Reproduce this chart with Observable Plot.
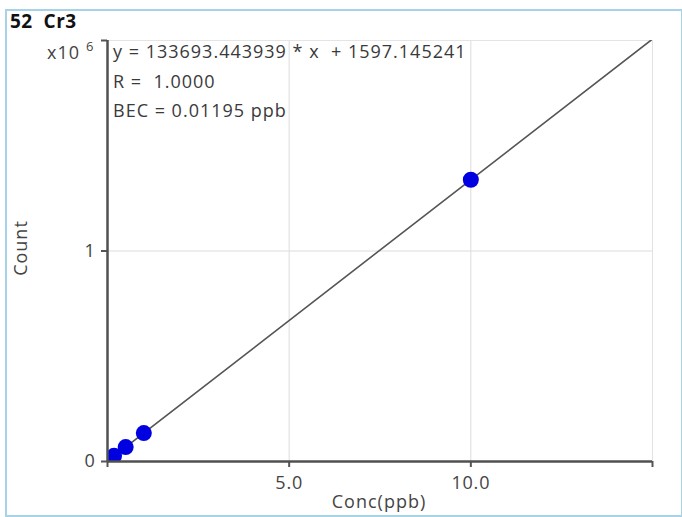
<!DOCTYPE html>
<html>
<head>
<meta charset="utf-8">
<script src="https://cdn.jsdelivr.net/npm/d3@7"></script>
<script src="https://cdn.jsdelivr.net/npm/@observablehq/plot@0.6"></script>
<style>
  html, body { margin: 0; padding: 0; background: #fff; }
  #wrap { position: relative; width: 682px; height: 517px; overflow: hidden; background: #fff;
          font-family: "Open Sans", sans-serif; color: #3a3a3a; }
  #border { position: absolute; left: 5px; top: 9px; width: 674px; height: 504px;
            border: 2px solid #a8d2e8; box-sizing: content-box; }
  .t { position: absolute; font-size: 18px; line-height: 18px; white-space: pre; letter-spacing: 1px; }
  #chart { position: absolute; left: 0; top: 0; }
</style>
</head>
<body>
<div id="wrap">
  <div id="border"></div>
  <div id="chart"></div>
</div>
<script>
// ---- data ----
const title = "52  Cr3";
const scaleLabel = "x10";
const scaleExp = "6";
const equationLines = [
  "y = 133693.443939 * x  + 1597.145241",
  "R =  1.0000",
  "BEC = 0.01195 ppb"
];
const xLabel = "Conc(ppb)";
const yLabel = "Count";
const conc = [0.18, 0.5, 1.0, 10.0];
const counts = [27000, 68500, 135000, 1338500];
const slope = 133693.443939;
const intercept = 1597.145241;
const lineX = [0, 15];
const xTicks = [0, 5, 10, 15];
const xTickLabels = ["", "5.0", "10.0", ""];
const yTicks = [0, 1000000, 2000000];
const yTickLabels = ["0", "1", ""];
const gridXValues = [5, 10];
const gridYValues = [1000000];

const points = conc.map((c, i) => ({x: c, y: counts[i]}));
const fitLine = lineX.map(x => ({x, y: slope * x + intercept}));

const chart = Plot.plot({
  width: 682,
  height: 517,
  marginLeft: 107,
  marginRight: 30,
  marginTop: 40,
  marginBottom: 56,
  style: {fontFamily: "Open Sans, sans-serif", fontSize: "18px", color: "#444", background: "transparent", letterSpacing: "0.8px"},
  x: {domain: [0, 15]},
  y: {domain: [0, 2000000]},
  marks: [
    Plot.gridX(gridXValues, {stroke: "#dcdcdc", strokeOpacity: 1, strokeWidth: 1}),
    Plot.gridY(gridYValues, {stroke: "#dcdcdc", strokeOpacity: 1, strokeWidth: 1}),
    Plot.ruleY([2000000], {stroke: "#e4e4e4", strokeWidth: 1}),
    Plot.ruleX([15], {stroke: "#e2e2e2", strokeWidth: 1}),
    Plot.line(fitLine, {x: "x", y: "y", stroke: "#555", strokeWidth: 1.6, clip: true}),
    Plot.dot(points, {x: "x", y: "y", r: 8, fill: "#0000e0", stroke: "none", clip: true}),
    Plot.axisX({ticks: xTicks, tickFormat: (d) => xTickLabels[xTicks.indexOf(d)], tickSize: 6, tickPadding: 9, label: null, stroke: "#555", strokeWidth: 2}),
    Plot.axisY({ticks: yTicks, tickFormat: (d) => yTickLabels[yTicks.indexOf(d)], tickSize: 6, tickPadding: 6, label: null, stroke: "#555", strokeWidth: 2}),
    Plot.ruleX([0], {stroke: "#505050", strokeWidth: 2.5}),
    Plot.ruleY([0], {stroke: "#505050", strokeWidth: 2.5})
  ]
});
document.getElementById("chart").appendChild(chart);

const wrap = document.getElementById("wrap");
function addText(txt, left, top, extra) {
  const d = document.createElement("div");
  d.className = "t";
  d.textContent = txt;
  d.style.left = left + "px";
  d.style.top = top + "px";
  Object.assign(d.style, extra || {});
  wrap.appendChild(d);
  return d;
}
addText(title, 10, 12, {fontWeight: "700", color: "#111", fontSize: "19px", lineHeight: "19px", letterSpacing: "0.5px"});
addText(scaleLabel, 47, 43, {color: "#444"});
addText(scaleExp, 86, 40, {fontSize: "13px", lineHeight: "13px", color: "#444"});
equationLines.forEach((s, i) => addText(s, 113, 42 + i * 29.5, {color: "#3a3a3a"}));
addText(xLabel, 329, 492, {width: "100px", textAlign: "center", color: "#444"});
addText(yLabel, -30, 239, {width: "100px", height: "18px", textAlign: "center", transform: "rotate(-90deg)", transformOrigin: "50% 50%", color: "#444"});
</script>
</body>
</html>
